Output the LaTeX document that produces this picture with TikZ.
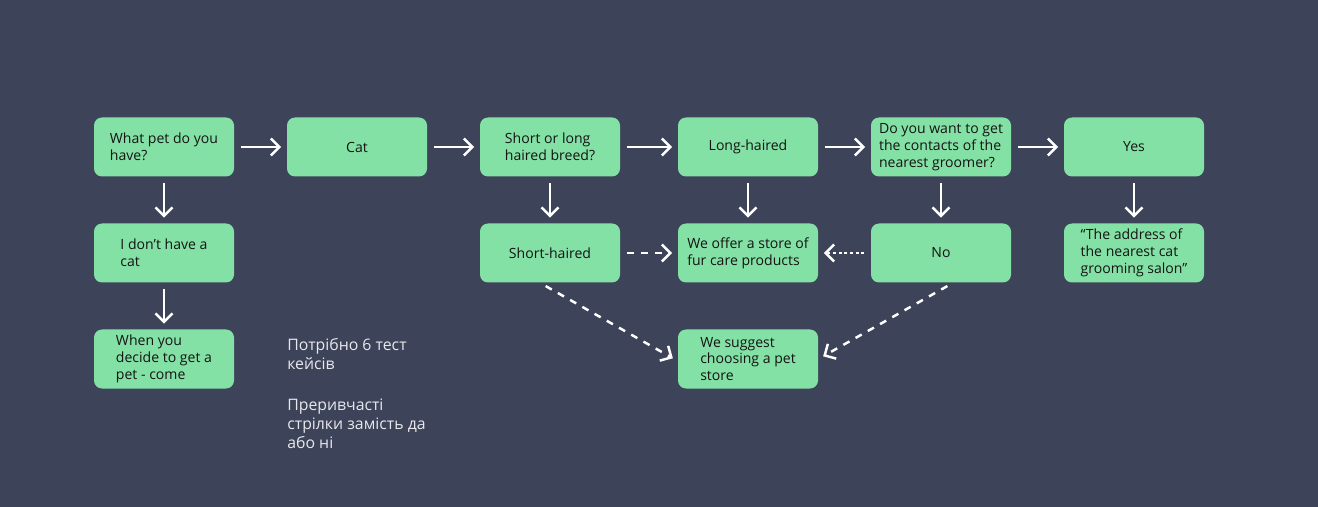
\documentclass[tikz,border=0pt]{standalone}
\usepackage{fontspec}
\setmainfont{Open Sans}
\usetikzlibrary{arrows.meta}
\definecolor{slate}{RGB}{61,68,89}
\definecolor{mint}{RGB}{132,225,165}
\definecolor{ink}{RGB}{20,20,20}
\definecolor{note}{RGB}{232,232,236}
\begin{document}
\begin{tikzpicture}[
  font=\fontsize{8}{9.6}\selectfont,
  step box/.style={fill=mint, text=ink, rounded corners=0.16cm,
                   minimum width=2.8cm, minimum height=1.18cm,
                   inner sep=2pt, align=left},
  flow/.style={draw=white, line width=1.4pt,
               -{Straight Barb[length=0.17cm, width=0.34cm, line width=1.4pt]},
               shorten <=0.13cm, shorten >=0.11cm},
  dash flow/.style={flow, dash pattern=on 4pt off 4pt},
  dot flow/.style={flow, dash pattern=on 1.6pt off 1.6pt},
  remark/.style={text=note, font=\fontsize{9}{10.8}\selectfont,
                 anchor=north west, inner sep=0pt, align=left}
]
\fill[slate] (0,0) rectangle (26.36,-10.14);
\useasboundingbox (0,0) rectangle (26.36,-10.14);

\node[step box] (pet) at (3.28,-2.94) {What pet do you\\have?};
\node[step box] (cat) at (7.14,-2.94) {Cat};
\node[step box] (breed) at (11.0,-2.94) {Short or long\\haired breed?};
\node[step box] (longhaired) at (14.96,-2.94) {Long-haired};
\node[step box] (groomer) at (18.82,-2.94) {Do you want to get\\the contacts of the\\nearest groomer?};
\node[step box] (yes) at (22.68,-2.94) {Yes};

\node[step box] (nocat) at (3.28,-5.06) {I don't have a\\cat};
\node[step box] (shorthaired) at (11.0,-5.06) {Short-haired};
\node[step box] (furstore) at (14.96,-5.06) {We offer a store of\\fur care products};
\node[step box] (no) at (18.82,-5.06) {No};
\node[step box] (address) at (22.68,-5.06) {“The address of\\the nearest cat\\grooming salon”};

\node[step box] (comeback) at (3.28,-7.18) {When you\\decide to get a\\pet - come};
\node[step box] (petstore) at (14.96,-7.18) {We suggest\\choosing a pet\\store};

\node[remark] (cases) at (5.74,-6.76) {Потрібно 6 тест\\кейсів};
\node[remark] (dashes) at (5.74,-7.98) {Преривчасті\\стрілки замість да\\або ні};

\draw[flow] (pet) -- (cat);
\draw[flow] (cat) -- (breed);
\draw[flow] (breed) -- (longhaired);
\draw[flow] (longhaired) -- (groomer);
\draw[flow] (groomer) -- (yes);
\draw[flow] (pet) -- (nocat);
\draw[flow] (nocat) -- (comeback);
\draw[flow] (breed) -- (shorthaired);
\draw[flow] (longhaired) -- (furstore);
\draw[flow] (groomer) -- (no);
\draw[flow] (yes) -- (address);
\draw[dash flow] (shorthaired) -- (furstore);
\draw[dot flow] (no) -- (furstore);
\draw[dash flow] ([xshift=-0.2cm]shorthaired.south) -- ([yshift=-0.04cm]petstore.west);
\draw[dash flow] ([xshift=0.24cm]no.south) -- (petstore.east);
\end{tikzpicture}
\end{document}
